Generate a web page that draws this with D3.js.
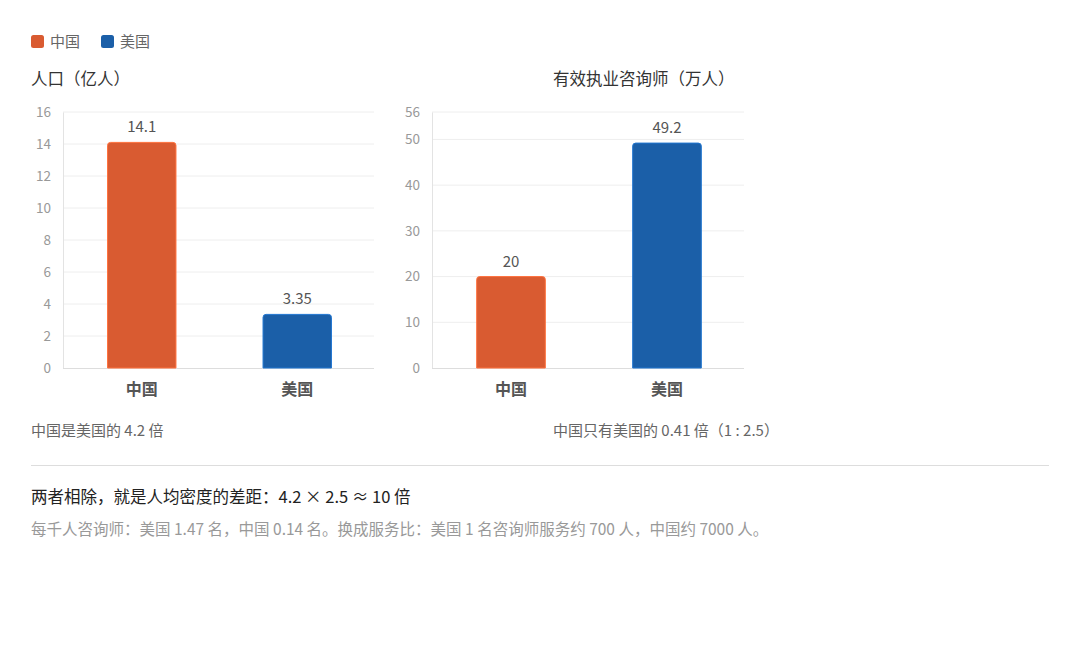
<!DOCTYPE html>
<html><head><meta charset="utf-8">
<script src="https://cdn.jsdelivr.net/npm/d3@7"></script>
<style>
body{margin:0;background:#fff;font-family:"Noto Sans CJK SC","Noto Sans",sans-serif;}
</style></head>
<body><svg id="c" width="1080" height="648"></svg>
<script>
const categories = ["中国", "美国"];
const colors = ["#D95B31", "#1B5FA8"];
const populationValues = [14.1, 3.35];
const populationTicks = [0, 2, 4, 6, 8, 10, 12, 14, 16];
const consultantValues = [20, 49.2];
const consultantTicks = [0, 10, 20, 30, 40, 50, 56];
const titles = ["人口（亿人）", "有效执业咨询师（万人）"];
const notes = ["中国是美国的 4.2 倍", "中国只有美国的 0.41 倍（1 : 2.5）"];
const summary = "两者相除，就是人均密度的差距：4.2 × 2.5 ≈ 10 倍";
const detail = "每千人咨询师：美国 1.47 名，中国 0.14 名。换成服务比：美国 1 名咨询师服务约 700 人，中国约 7000 人。";

const svg = d3.select("#c");
const font = '"Noto Sans CJK SC","Noto Sans",sans-serif';

// legend
const lg = svg.append("g");
categories.forEach((c, i) => {
  const x = 31 + i * 70;
  lg.append("rect").attr("x", x).attr("y", 35).attr("width", 13).attr("height", 13).attr("rx", 2.5).attr("fill", colors[i]);
  lg.append("text").attr("x", x + 19).attr("y", 47).attr("font-size", 15).attr("fill", "#666").attr("font-family", font).text(c);
});

function panel(x0, x1, values, ticks, max, title, titleX, note, noteX) {
  const g = svg.append("g");
  const y = d3.scaleLinear().domain([0, max]).range([368, 112]);
  const x = d3.scaleBand().domain(categories).range([x0 + 1, x1 + 1]).paddingInner(0.56).paddingOuter(0.28);
  // grid
  g.selectAll(".grid").data(ticks.filter(t => t > 0)).join("line")
    .attr("x1", x0).attr("x2", x1).attr("y1", d => y(d)).attr("y2", d => y(d))
    .attr("stroke", "#eeeeee").attr("stroke-width", 1);
  // y axis
  const ya = g.append("g").attr("transform", `translate(${x0},0)`)
    .call(d3.axisLeft(y).tickValues(ticks).tickSize(0).tickPadding(12));
  ya.select(".domain").attr("stroke", "#e3e3e3");
  ya.selectAll("text").attr("fill", "#999").attr("font-size", 13.5).attr("font-family", font);
  // x axis
  const xa = g.append("g").attr("transform", `translate(0,368)`)
    .call(d3.axisBottom(x).tickSize(0).tickPadding(16));
  xa.select(".domain").attr("stroke", "#dddddd").attr("d", `M${x0},0.5H${x1}`);
  xa.selectAll("text").attr("fill", "#555").attr("font-size", 16).attr("font-weight", "bold").attr("font-family", font);
  // bars with rounded top
  const r = 3;
  g.selectAll(".bar").data(values).join("path")
    .attr("d", (d, i) => {
      const bx = x(categories[i]), bw = x.bandwidth(), top = y(d), bot = y(0);
      return `M${bx},${bot}V${top + r}Q${bx},${top} ${bx + r},${top}H${bx + bw - r}Q${bx + bw},${top} ${bx + bw},${top + r}V${bot}Z`;
    })
    .attr("fill", (d, i) => colors[i])
    .attr("stroke", (d, i) => d3.color(colors[i]).brighter(0.6))
    .attr("stroke-width", 1);
  g.selectAll(".val").data(values).join("text")
    .attr("x", (d, i) => x(categories[i]) + x.bandwidth() / 2)
    .attr("y", d => y(d) - 10)
    .attr("text-anchor", "middle").attr("font-size", 15).attr("fill", "#555").attr("font-family", font)
    .text(d => d);
  svg.append("text").attr("x", titleX).attr("y", 85).attr("font-size", 16.5).attr("fill", "#333").attr("font-family", font).text(title);
  svg.append("text").attr("x", noteX).attr("y", 436).attr("font-size", 15).attr("fill", "#666").attr("font-family", font).text(note);
}

panel(63, 374, populationValues, populationTicks, 16, titles[0], 31, notes[0], 31);
panel(432, 744, consultantValues, consultantTicks, 56, titles[1], 553, notes[1], 553);

svg.append("line").attr("x1", 31).attr("x2", 1049).attr("y1", 465.5).attr("y2", 465.5).attr("stroke", "#dddddd");
svg.append("text").attr("x", 31).attr("y", 503).attr("font-size", 16.5).attr("fill", "#222").attr("font-family", font).text(summary);
svg.append("text").attr("x", 31).attr("y", 535).attr("font-size", 15.5).attr("fill", "#999").attr("font-family", font).text(detail);
</script></body></html>
